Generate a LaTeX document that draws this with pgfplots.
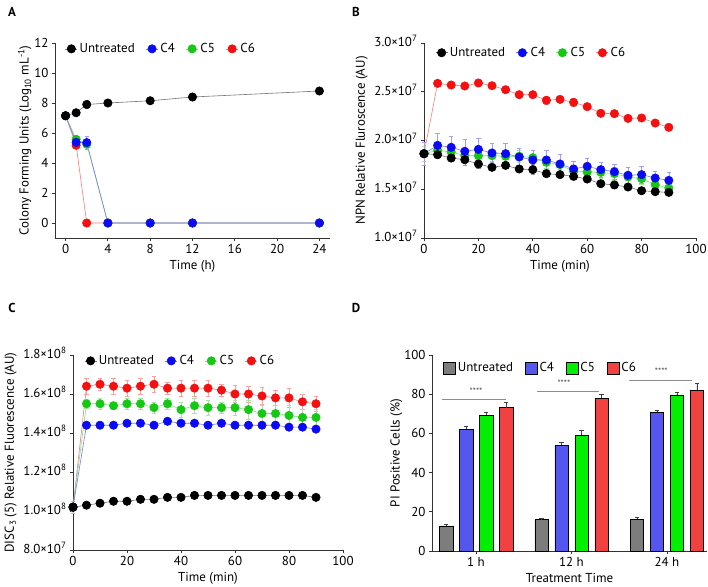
\documentclass[border=0pt]{standalone}
\usepackage{pgfplots}
\usepackage{pgfplotstable}
\pgfplotsset{compat=1.18}
\usepackage{fontspec}
\setmainfont{PT Sans}
\definecolor{mblue}{RGB}{10,10,245}
\definecolor{mgreen}{RGB}{20,200,20}
\definecolor{mred}{RGB}{245,15,15}
\definecolor{bgray}{RGB}{125,125,125}
\definecolor{bblue}{RGB}{85,85,240}
\definecolor{bgreen}{RGB}{0,240,0}
\definecolor{bred}{RGB}{242,65,65}
\pgfplotsset{
  gp/.style={scale only axis, axis lines*=left, tick align=outside,
    major tick length=3bp, clip=false,
    axis line style={black!80, line width=0.8pt},
    tick style={black!80, line width=0.8pt},
    /pgf/number format/assume math mode=true,
    tick label style={font=\fontsize{13}{15}\selectfont},
    label style={font=\fontsize{13}{15}\selectfont},
    legend cell align=left,
    legend style={draw=none, fill=none, font=\fontsize{13}{15}\selectfont,
      legend columns=-1,
      /tikz/every even column/.append style={column sep=9bp}},
  },
  lineleg/.style={legend image code/.code={
      \draw[mark repeat=2,mark phase=2,##1] plot coordinates {(0bp,0bp) (6bp,0bp) (12bp,0bp)};}},
  mk/.style={color=#1!55, line width=0.6pt, mark=*, mark size=4.2pt,
    mark options={draw=#1, fill=#1, solid},
    error bars/y dir=both, error bars/y explicit,
    error bars/error bar style={#1!40, line width=0.6pt},
    error bars/error mark options={#1!40, rotate=90, mark size=2.2pt, line width=0.6pt}},
  bb/.style={fill=#1, draw=black, line width=0.5pt,
    error bars/y dir=plus, error bars/y explicit,
    error bars/error bar style={black!75, line width=0.5pt},
    error bars/error mark options={black!75, rotate=90, mark size=2.2pt, line width=0.5pt}},
}
% Panel B (units of 1e7)
\pgfplotstableread{
t u ue a ae b be c ce
0 1.865 0.03 1.865 0.12 1.865 0.08 1.865 0.03
5 1.855 0.04 1.950 0.12 1.899 0.08 2.586 0.02
10 1.820 0.03 1.930 0.11 1.882 0.06 2.569 0.02
15 1.803 0.06 1.889 0.12 1.844 0.06 2.559 0.02
20 1.759 0.04 1.909 0.11 1.844 0.06 2.590 0.02
25 1.725 0.03 1.872 0.10 1.844 0.06 2.562 0.02
30 1.745 0.03 1.865 0.11 1.838 0.06 2.521 0.02
35 1.708 0.03 1.831 0.09 1.838 0.06 2.470 0.02
40 1.701 0.05 1.800 0.10 1.824 0.08 2.470 0.02
45 1.660 0.03 1.800 0.10 1.776 0.06 2.412 0.04
50 1.650 0.03 1.759 0.10 1.752 0.05 2.422 0.03
55 1.632 0.03 1.708 0.08 1.684 0.06 2.391 0.04
60 1.605 0.03 1.735 0.08 1.677 0.06 2.347 0.02
65 1.557 0.03 1.701 0.08 1.673 0.06 2.279 0.02
70 1.544 0.03 1.680 0.08 1.660 0.07 2.275 0.02
75 1.523 0.03 1.643 0.08 1.626 0.06 2.227 0.02
80 1.485 0.03 1.650 0.09 1.609 0.06 2.231 0.02
85 1.475 0.03 1.615 0.07 1.547 0.05 2.179 0.02
90 1.468 0.03 1.591 0.08 1.513 0.06 2.135 0.02
}\tabB
% Panel C (units of 1e8)
\pgfplotstableread{
t u ue a ae b be c ce
0 1.020 0.02 1.020 0.02 1.020 0.02 1.020 0.03
5 1.030 0.004 1.440 0.006 1.550 0.025 1.640 0.04
10 1.040 0.004 1.440 0.006 1.550 0.03 1.650 0.03
15 1.050 0.004 1.440 0.006 1.540 0.02 1.640 0.04
20 1.050 0.004 1.450 0.006 1.550 0.03 1.630 0.04
25 1.060 0.004 1.450 0.008 1.550 0.03 1.640 0.04
30 1.060 0.004 1.440 0.006 1.530 0.03 1.650 0.04
35 1.070 0.004 1.460 0.006 1.550 0.03 1.630 0.03
40 1.070 0.004 1.450 0.006 1.520 0.04 1.630 0.04
45 1.080 0.004 1.450 0.006 1.540 0.04 1.630 0.04
50 1.080 0.004 1.440 0.006 1.530 0.04 1.630 0.04
55 1.080 0.004 1.450 0.006 1.530 0.03 1.620 0.03
60 1.080 0.004 1.440 0.006 1.530 0.04 1.600 0.045
65 1.080 0.004 1.440 0.006 1.520 0.05 1.600 0.04
70 1.080 0.004 1.440 0.012 1.500 0.04 1.590 0.045
75 1.080 0.004 1.440 0.006 1.500 0.04 1.580 0.04
80 1.080 0.004 1.430 0.01 1.490 0.05 1.580 0.05
85 1.080 0.004 1.430 0.006 1.480 0.04 1.560 0.04
90 1.070 0.004 1.420 0.006 1.480 0.04 1.550 0.04
}\tabC
\begin{document}
\begin{tikzpicture}
\useasboundingbox (0,0) rectangle (708bp,-587bp);
\node[font=\bfseries\fontsize{13}{15}\selectfont] at (12bp,-12bp) {A};
\node[font=\bfseries\fontsize{13}{15}\selectfont] at (356bp,-12bp) {B};
\node[font=\bfseries\fontsize{13}{15}\selectfont] at (12bp,-308bp) {C};
\node[font=\bfseries\fontsize{13}{15}\selectfont] at (356bp,-308bp) {D};

% ---------------- Panel A
\begin{axis}[gp, lineleg, at={(55bp,-238bp)}, anchor=south west,
  width=275bp, height=195bp,
  xmin=-1, xmax=25, ymin=-1, ymax=12,
  xtick={0,4,8,12,16,20,24}, ytick={0,2,4,6,8,10,12},
  xlabel={Time (h)},
  ylabel={Colony Forming Units (Log\textsubscript{10} mL\textsuperscript{-1})},
  ylabel style={yshift=-4bp},
  legend style={at={(0.025,0.97)}, anchor=west}, reverse legend]
\addplot[mk=mred] coordinates {(0,7.15) +- (0,0.1) (1,5.18) +- (0,0.15) (2,0) +- (0,0) (4,0) +- (0,0) (8,0) +- (0,0) (12,0) +- (0,0) (24,0) +- (0,0)};
\addlegendentry{C6}
\addplot[mk=mgreen] coordinates {(0,7.15) +- (0,0.1) (1,5.58) +- (0,0.2) (2,5.25) +- (0,0.2) (4,0) +- (0,0) (8,0) +- (0,0) (12,0) +- (0,0) (24,0) +- (0,0)};
\addlegendentry{C5}
\addplot[mk=mblue] coordinates {(0,7.15) +- (0,0.1) (1,5.38) +- (0,0.25) (2,5.36) +- (0,0.45) (4,0) +- (0,0) (8,0) +- (0,0) (12,0) +- (0,0) (24,0) +- (0,0)};
\addlegendentry{C4}
\addplot[mk=black] coordinates {(0,7.15) +- (0,0.1) (1,7.35) +- (0,0.1) (2,7.9) +- (0,0.25) (4,8.0) +- (0,0.1) (8,8.15) +- (0,0.1) (12,8.4) +- (0,0.1) (24,8.8) +- (0,0.1)};
\addlegendentry{Untreated}
\end{axis}

% ---------------- Panel B
\begin{axis}[gp, lineleg, at={(424bp,-238bp)}, anchor=south west,
  width=272bp, height=195bp,
  xmin=0, xmax=100, ymin=1, ymax=3,
  xtick={0,20,40,60,80,100}, ytick={1,1.5,2,2.5,3},
  yticklabels={1.0×10\textsuperscript{7},1.5×10\textsuperscript{7},2.0×10\textsuperscript{7},2.5×10\textsuperscript{7},3.0×10\textsuperscript{7}},
  yticklabel style={yshift=2bp},
  xlabel={Time (min)},
  ylabel={NPN Relative Fluroscence (AU)},
  legend style={at={(0.03,0.95)}, anchor=west}, reverse legend]
\addplot[mk=mred] table[x=t,y=c,y error=ce]{\tabB};
\addlegendentry{C6}
\addplot[mk=mgreen] table[x=t,y=b,y error=be]{\tabB};
\addlegendentry{C5}
\addplot[mk=mblue] table[x=t,y=a,y error=ae]{\tabB};
\addlegendentry{C4}
\addplot[mk=black] table[x=t,y=u,y error=ue]{\tabB};
\addlegendentry{Untreated}
\end{axis}

% ---------------- Panel C
\begin{axis}[gp, lineleg, at={(73bp,-550bp)}, anchor=south west,
  width=270bp, height=195bp,
  xmin=0, xmax=100, ymin=0.8, ymax=1.8,
  xtick={0,20,40,60,80,100}, ytick={0.8,1.0,1.2,1.4,1.6,1.8},
  yticklabels={8.0×10\textsuperscript{7},1.0×10\textsuperscript{8},1.2×10\textsuperscript{8},1.4×10\textsuperscript{8},1.6×10\textsuperscript{8},1.8×10\textsuperscript{8}},
  yticklabel style={yshift=2bp},
  xlabel={Time (min)},
  ylabel={DISC\textsubscript{3} (5) Relative Fluorescence (AU)},
  legend style={at={(0.03,0.97)}, anchor=west}, reverse legend]
\addplot[mk=mred] table[x=t,y=c,y error=ce]{\tabC};
\addlegendentry{C6}
\addplot[mk=mgreen] table[x=t,y=b,y error=be]{\tabC};
\addlegendentry{C5}
\addplot[mk=mblue] table[x=t,y=a,y error=ae]{\tabC};
\addlegendentry{C4}
\addplot[mk=black] table[x=t,y=u,y error=ue]{\tabC};
\addlegendentry{Untreated}
\end{axis}

% ---------------- Panel D
\begin{axis}[gp, at={(432bp,-551bp)}, anchor=south west,
  width=275bp, height=196bp,
  ybar=6.5bp, bar width=13.5bp,
  xmin=-0.461, xmax=2.419, ymin=0, ymax=100,
  xtick={0,1,2}, xticklabels={1 h,12 h,24 h},
  ytick={0,20,40,60,80,100},
  xlabel={Treatment Time},
  ylabel={PI Positive Cells (\%)},
  ylabel style={yshift=-5bp},
  legend image code/.code={\draw[#1] (0bp,-6bp) rectangle (12bp,6bp);},
  legend style={at={(0.03,0.934)}, anchor=west,
    /tikz/every even column/.append style={column sep=10bp}}]
\addplot[bb=bgray] coordinates {(0,12.8) +- (0,0.6) (1,16.0) +- (0,0.8) (2,16.2) +- (0,0.8)};
\addlegendentry{Untreated}
\addplot[bb=bblue] coordinates {(0,62.1) +- (0,1.5) (1,53.9) +- (0,1.5) (2,70.7) +- (0,1.0)};
\addlegendentry{C4}
\addplot[bb=bgreen] coordinates {(0,69.2) +- (0,1.5) (1,59.0) +- (0,2.5) (2,79.6) +- (0,1.5)};
\addlegendentry{C5}
\addplot[bb=bred] coordinates {(0,73.1) +- (0,3.0) (1,77.9) +- (0,2.0) (2,82.1) +- (0,3.5)};
\addlegendentry{C6}
\draw[black!45, line width=0.8pt] (axis cs:-0.36,77.4) -- (axis cs:0.31,77.4);
\draw[black!45, line width=0.8pt] (axis cs:0.64,81.6) -- (axis cs:1.29,81.6);
\draw[black!45, line width=0.8pt] (axis cs:1.60,87.2) -- (axis cs:2.26,87.2);
\node[font=\fontsize{9}{10}\selectfont, black!70] at (axis cs:0.0,81.5) {****};
\node[font=\fontsize{9}{10}\selectfont, black!70] at (axis cs:0.92,85.5) {****};
\node[font=\fontsize{9}{10}\selectfont, black!70] at (axis cs:1.94,91.5) {****};
\end{axis}
\end{tikzpicture}
\end{document}
